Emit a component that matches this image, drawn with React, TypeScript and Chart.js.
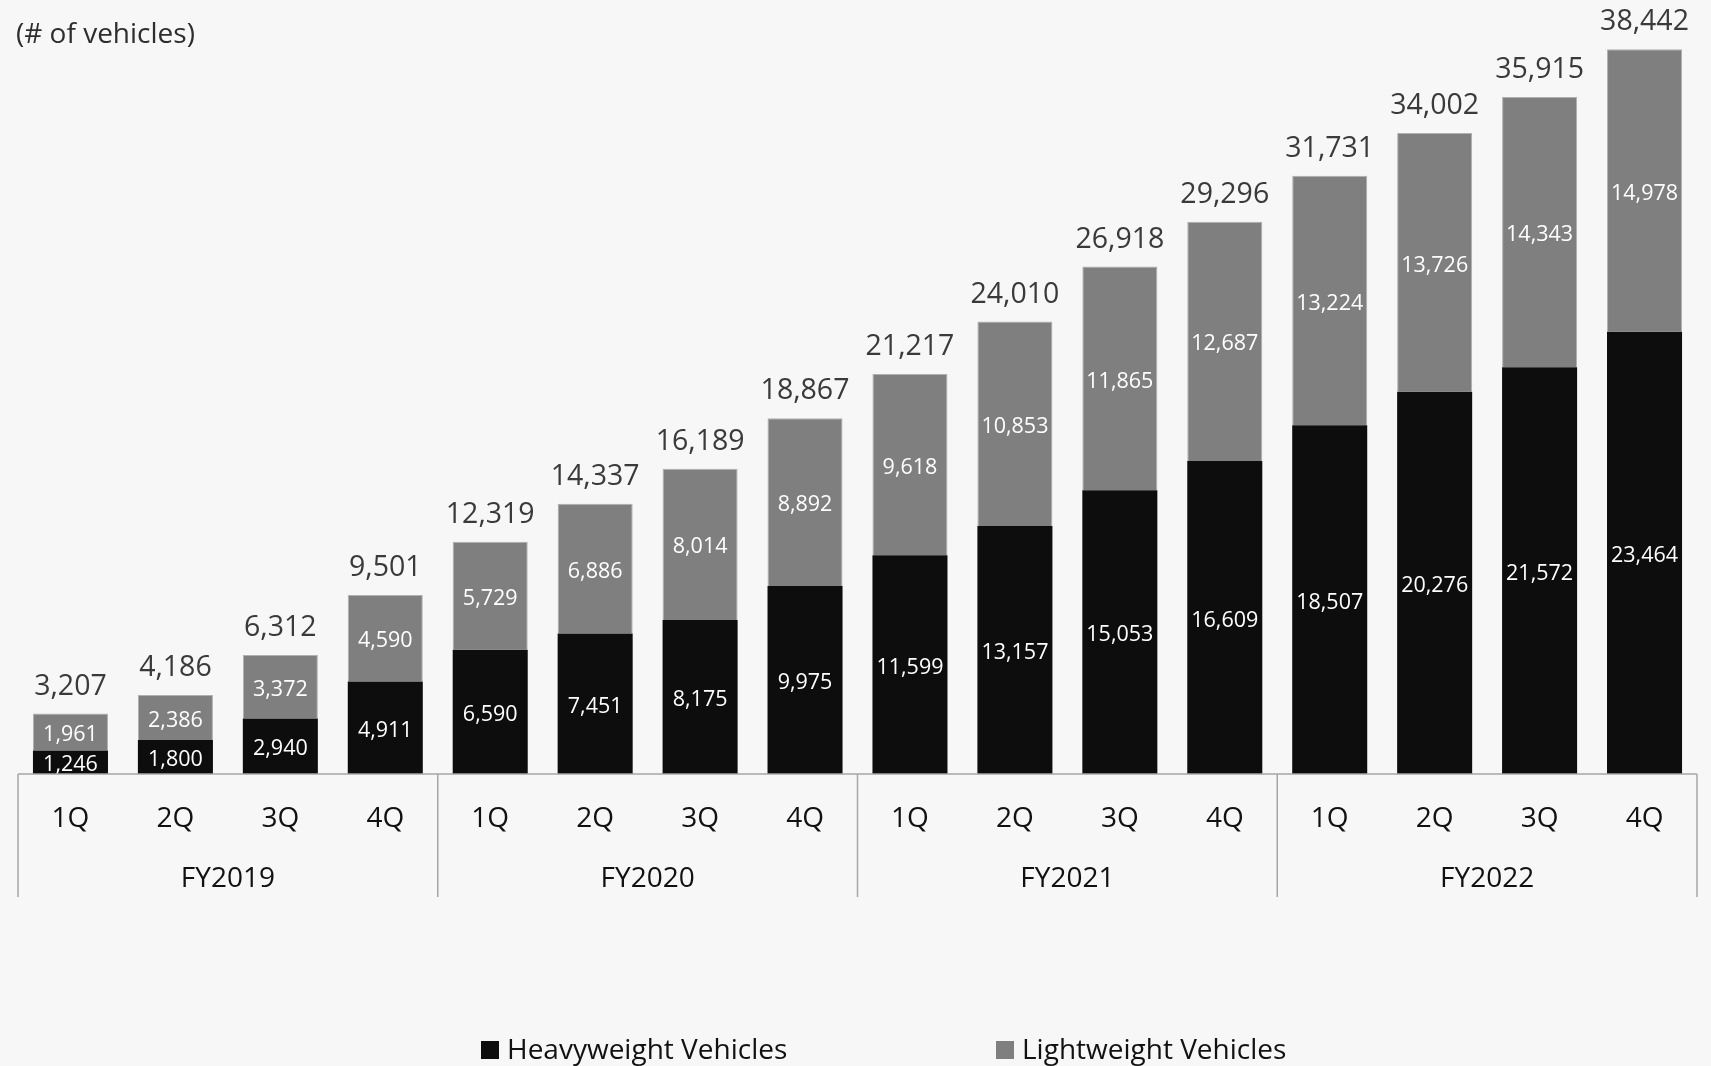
import { useEffect, useRef } from 'react';
import { Chart, registerables } from 'chart.js';

Chart.register(...registerables);

const QUARTERS = ['1Q', '2Q', '3Q', '4Q', '1Q', '2Q', '3Q', '4Q', '1Q', '2Q', '3Q', '4Q', '1Q', '2Q', '3Q', '4Q'];
const FISCAL_YEARS = ['FY2019', 'FY2020', 'FY2021', 'FY2022'];
const HEAVYWEIGHT = [1246, 1800, 2940, 4911, 6590, 7451, 8175, 9975, 11599, 13157, 15053, 16609, 18507, 20276, 21572, 23464];
const LIGHTWEIGHT = [1961, 2386, 3372, 4590, 5729, 6886, 8014, 8892, 9618, 10853, 11865, 12687, 13224, 13726, 14343, 14978];
const TOTALS = [3207, 4186, 6312, 9501, 12319, 14337, 16189, 18867, 21217, 24010, 26918, 29296, 31731, 34002, 35915, 38442];
const SERIES_NAMES = ['Heavyweight Vehicles', 'Lightweight Vehicles'];
const UNIT_LABEL = '(# of vehicles)';

const FONT = '"Open Sans", "Noto Sans", sans-serif';
const HEAVY_COLOR = '#0d0d0d';
const LIGHT_COLOR = '#7f7f7f';
const AXIS_COLOR = '#a6a6a6';

const fmt = (v: number) => v.toLocaleString('en-US');

const overlayPlugin = {
  id: 'overlay',
  beforeDraw(chart: any) {
    const { ctx, width, height } = chart;
    ctx.save();
    ctx.fillStyle = '#f7f7f7';
    ctx.fillRect(0, 0, width, height);
    ctx.restore();
  },
  afterDatasetsDraw(chart: any) {
    const { ctx } = chart;
    ctx.save();
    ctx.textAlign = 'center';
    ctx.textBaseline = 'middle';
    chart.data.datasets.forEach((ds: any, di: number) => {
      const meta = chart.getDatasetMeta(di);
      meta.data.forEach((bar: any, i: number) => {
        const v = ds.data[i];
        ctx.fillStyle = '#ffffff';
        ctx.font = `21.5px ${FONT}`;
        ctx.fillText(fmt(v), bar.x, (bar.y + bar.base) / 2 + 3);
      });
    });
    const topMeta = chart.getDatasetMeta(1);
    topMeta.data.forEach((bar: any, i: number) => {
      ctx.fillStyle = '#3a3a3a';
      ctx.font = `28.5px ${FONT}`;
      ctx.fillText(fmt(TOTALS[i]), bar.x, bar.y - 27);
    });
    ctx.restore();
  },
  afterDraw(chart: any) {
    const { ctx, chartArea, scales } = chart;
    const x = scales.x;
    const axisY = chartArea.bottom;
    ctx.save();
    ctx.strokeStyle = AXIS_COLOR;
    ctx.lineWidth = 1.5;
    ctx.beginPath();
    ctx.moveTo(chartArea.left, axisY);
    ctx.lineTo(chartArea.right, axisY);
    ctx.stroke();
    const n = QUARTERS.length;
    const per = n / FISCAL_YEARS.length;
    const bounds: number[] = [chartArea.left];
    for (let g = 1; g < FISCAL_YEARS.length; g++) {
      bounds.push((x.getPixelForValue(g * per - 1) + x.getPixelForValue(g * per)) / 2);
    }
    bounds.push(chartArea.right);
    ctx.beginPath();
    bounds.forEach((bx) => {
      ctx.moveTo(bx, axisY);
      ctx.lineTo(bx, axisY + 123);
    });
    ctx.stroke();
    ctx.textAlign = 'center';
    ctx.textBaseline = 'middle';
    ctx.fillStyle = '#111111';
    ctx.font = `28px ${FONT}`;
    QUARTERS.forEach((q, i) => {
      ctx.fillText(q, x.getPixelForValue(i), axisY + 45);
    });
    ctx.font = `28px ${FONT}`;
    FISCAL_YEARS.forEach((fy, g) => {
      ctx.fillText(fy, (bounds[g] + bounds[g + 1]) / 2, axisY + 105);
    });
    ctx.textAlign = 'left';
    ctx.fillStyle = '#2e2e2e';
    ctx.font = `28px ${FONT}`;
    ctx.fillText(UNIT_LABEL, 16, 35);
    const legendY = 1051;
    const items = [
      { x: 481, color: HEAVY_COLOR, text: SERIES_NAMES[0] },
      { x: 996, color: LIGHT_COLOR, text: SERIES_NAMES[1] },
    ];
    ctx.font = `28px ${FONT}`;
    items.forEach((it) => {
      ctx.fillStyle = it.color;
      ctx.fillRect(it.x, legendY - 10, 18, 18);
      ctx.fillStyle = '#111111';
      ctx.fillText(it.text, it.x + 26, legendY);
    });
    ctx.restore();
  },
};

export default function App() {
  const ref = useRef<HTMLCanvasElement>(null);
  useEffect(() => {
    const chart = new Chart(ref.current!, {
      type: 'bar',
      data: {
        labels: QUARTERS,
        datasets: [
          {
            label: SERIES_NAMES[0],
            data: HEAVYWEIGHT,
            backgroundColor: HEAVY_COLOR,
            borderColor: HEAVY_COLOR,
            borderWidth: 0,
            categoryPercentage: 1,
            barPercentage: 0.715,
          },
          {
            label: SERIES_NAMES[1],
            data: LIGHTWEIGHT,
            backgroundColor: LIGHT_COLOR,
            borderColor: '#b0b0b0',
            borderWidth: 1,
            categoryPercentage: 1,
            barPercentage: 0.715,
          },
        ],
      },
      options: {
        responsive: false,
        animation: false,
        devicePixelRatio: 1,
        layout: { padding: { left: 18, right: 14, top: 20, bottom: 292 } },
        plugins: { legend: { display: false }, tooltip: { enabled: false } },
        scales: {
          x: { display: false, stacked: true },
          y: { display: false, stacked: true, min: 0, max: 40000 },
        },
      },
      plugins: [overlayPlugin],
    });
    return () => chart.destroy();
  }, []);
  return (
    <div style={{ position: 'fixed', left: 0, top: 0, width: 1711, height: 1066, background: '#f7f7f7' }}>
      <canvas ref={ref} width={1711} height={1066} style={{ display: 'block', width: 1711, height: 1066 }} />
    </div>
  );
}
